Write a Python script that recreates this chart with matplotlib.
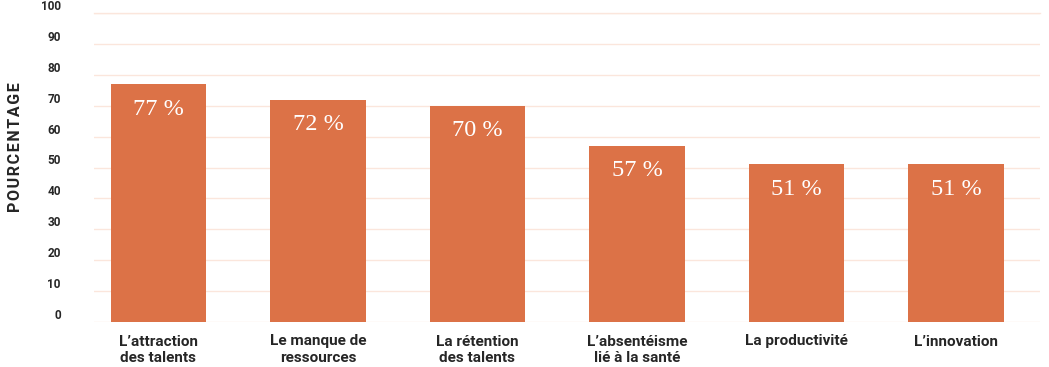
import matplotlib
matplotlib.use("Agg")
import matplotlib.pyplot as plt
import matplotlib.transforms as mtransforms
import numpy as np

categories = ["L\u2019attraction\ndes talents", "Le manque de\nressources", "La r\u00e9tention\ndes talents",
              "L\u2019absent\u00e9isme\nli\u00e9 \u00e0 la sant\u00e9", "La productivit\u00e9", "L\u2019innovation"]
values = [77, 72, 70, 57, 51, 51]
yticks = [0, 10, 20, 30, 40, 50, 60, 70, 80, 90, 100]

BAR = "#dc7247"
GRID = "#fbe6dc"
TXT = "#262626"

fig = plt.figure(figsize=(10.49, 3.67), dpi=100)
ax = fig.add_axes([94/1049, 45/367, (1040-94)/1049, (322-13)/367])

x = np.arange(len(categories))
bars = ax.bar(x, values, width=0.6, color=BAR, zorder=2)
ax.set_xlim(-0.404, 5.527)
ax.set_ylim(0, 98.5)

ax.set_yticks(yticks)
ax.set_yticklabels([str(v) for v in yticks], fontfamily="Roboto", fontweight="bold",
                   fontsize=8.5, color=TXT)
ax.tick_params(axis="y", length=0, pad=24)
offset = mtransforms.ScaledTranslation(0, 8/100, fig.dpi_scale_trans)
for lab in ax.get_yticklabels():
    lab.set_transform(lab.get_transform() + offset)
    lab.set_clip_on(False)

ax.set_xticks(x)
ax.set_xticklabels(categories, fontfamily="Roboto", fontweight="bold", fontsize=11,
                   color=TXT, linespacing=1.25, va="top")
ax.tick_params(axis="x", length=0, pad=9)

ax.grid(axis="y", color=GRID, linewidth=1, zorder=0)
ax.axhline(100, color=GRID, linewidth=1, zorder=0, clip_on=False)
for s in ax.spines.values():
    s.set_visible(False)

for b, v in zip(bars, values):
    ax.annotate(f"{v} %", (b.get_x() + b.get_width()/2, v), xytext=(0, -18),
                textcoords="offset points", ha="center", va="center",
                fontfamily="Liberation Serif", fontsize=17.5, color="white", zorder=3)

hs = "\u200a"
fig.text(15/1049, 1 - 147/367, hs.join("POURCENTAGE"), rotation=90, ha="center", va="center",
         fontfamily="Roboto", fontweight="bold", fontsize=11.5, color=TXT)

fig.savefig("out.png", dpi=100)
